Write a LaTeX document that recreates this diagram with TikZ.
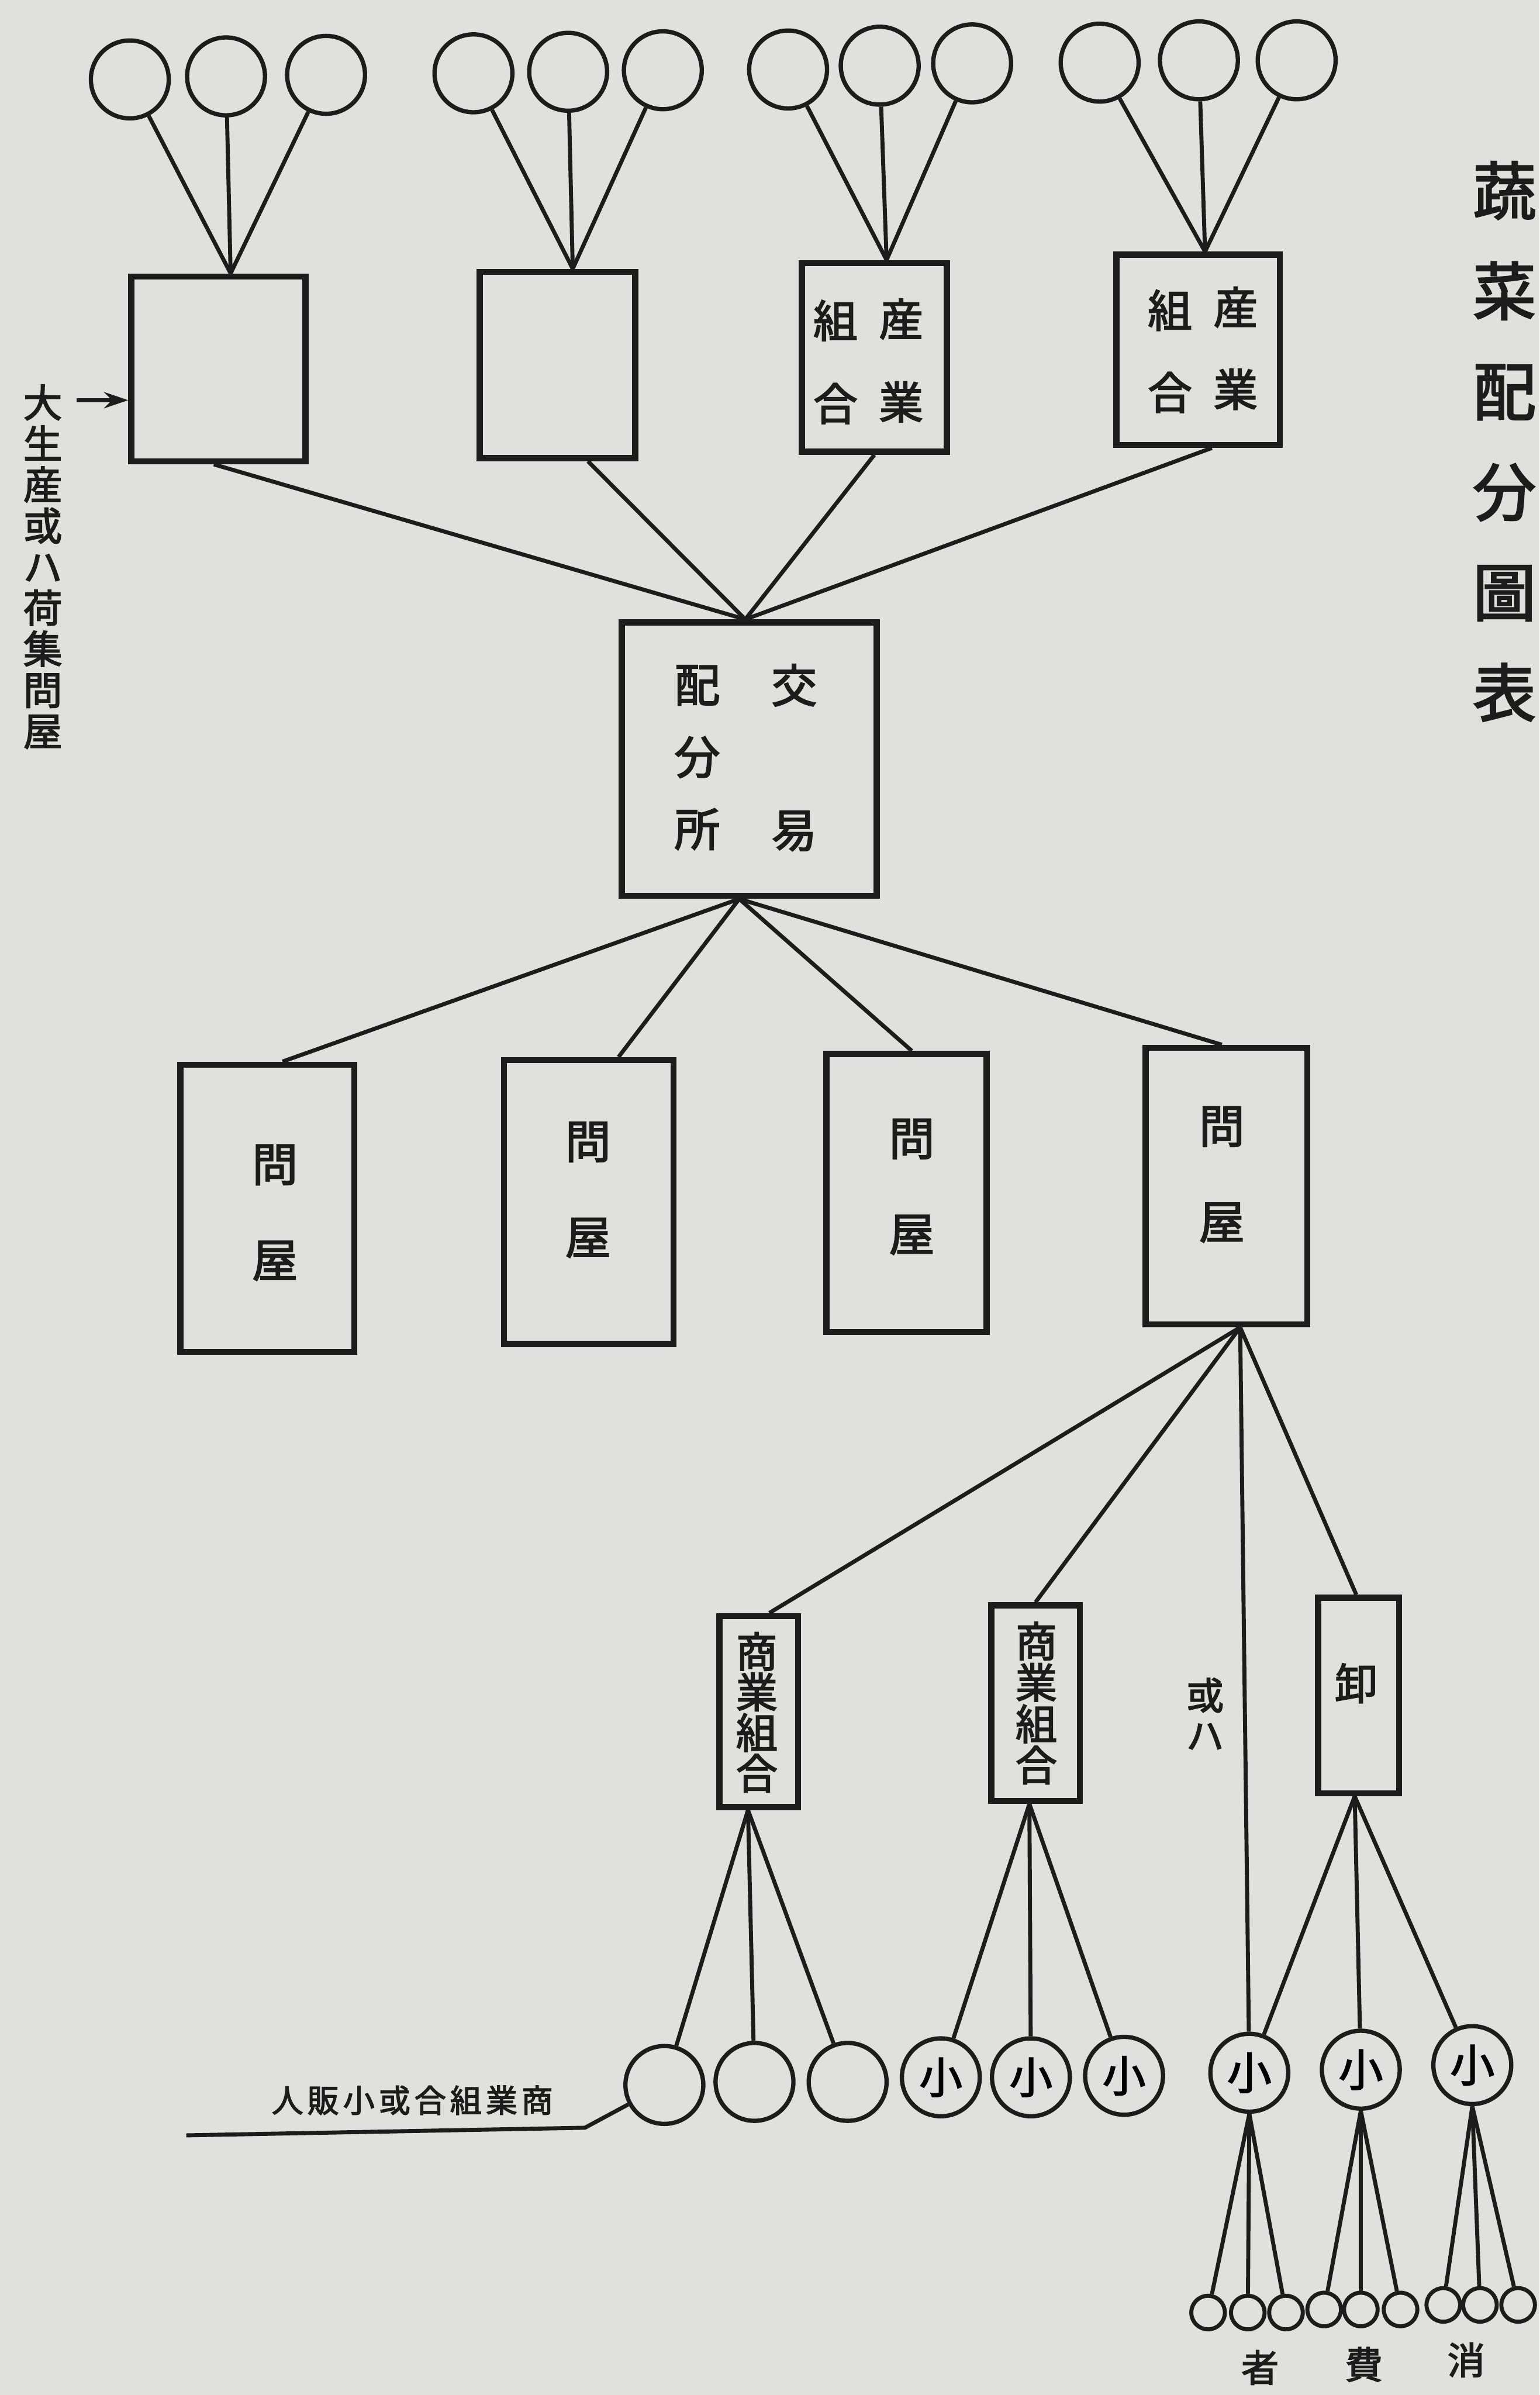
\documentclass[tikz,border=0pt]{standalone}
\usepackage{fontspec}
\usetikzlibrary{calc,arrows.meta}
\newfontfamily\cjk[FakeBold=2.6]{Noto Sans CJK JP}
\definecolor{paper}{RGB}{224,224,222}
\definecolor{ink}{RGB}{28,28,28}
\begin{document}
\begin{tikzpicture}[x=0.02cm,y=-0.02cm,
  conn/.style={draw=ink,line width=1.5pt},
  box/.style={draw=ink,line width=2.3pt,inner sep=0pt},
  ring/.style={draw=ink,circle,line width=1.6pt,inner sep=0pt,minimum size=1.02cm},
  tiny/.style={draw=ink,circle,line width=1.5pt,inner sep=0pt,minimum size=0.44cm},
  txt/.style={inner sep=0pt,align=center,text=ink}]
\fill[paper] (0,0) rectangle (1008,1568);
\useasboundingbox (0,0) rectangle (1008,1568);

% ---------- top circles ----------
\node[ring] (a1) at (85,52) {};
\node[ring] (a2) at (148,50) {};
\node[ring] (a3) at (213.5,49) {};
\node[ring] (a4) at (310,48) {};
\node[ring] (a5) at (372,47) {};
\node[ring] (a6) at (434,46) {};
\node[ring] (a7) at (516,45.5) {};
\node[ring] (a8) at (576,43) {};
\node[ring] (a9) at (636.5,41.5) {};
\node[ring] (a10) at (720,41) {};
\node[ring] (a11) at (785,39.5) {};
\node[ring] (a12) at (849,39.5) {};

% ---------- top boxes ----------
\node[box,minimum width=2.28cm,minimum height=2.42cm] (t1) at (143,241.5) {};
\node[box,minimum width=2.04cm,minimum height=2.44cm] (t2) at (365,239) {};
\node[box,minimum width=1.90cm,minimum height=2.47cm] (t3) at (572.5,234) {};
\node[box,minimum width=2.14cm,minimum height=2.49cm] (t4) at (784.5,229) {};
\node[txt,font=\cjk\fontsize{16.5pt}{30.9pt}\selectfont] (t3l) at (547,237) {組\\合};
\node[txt,font=\cjk\fontsize{16.5pt}{30.9pt}\selectfont] (t3r) at (590,236) {産\\業};
\node[txt,font=\cjk\fontsize{16.5pt}{30.6pt}\selectfont] (t4l) at (766,230) {組\\合};
\node[txt,font=\cjk\fontsize{16.5pt}{30.6pt}\selectfont] (t4r) at (809,228) {産\\業};

% ---------- exchange box ----------
\node[box,minimum width=3.34cm,minimum height=3.58cm] (ex) at (490.5,497) {};
\node[txt,font=\cjk\fontsize{17pt}{26.9pt}\selectfont] (exl) at (456.5,496) {配\\分\\所};
\node[txt,font=\cjk\fontsize{17pt}{53.9pt}\selectfont] (exr) at (520,496) {交\\易};

% ---------- wholesaler boxes ----------
\node[box,minimum width=2.28cm,minimum height=3.76cm] (w1) at (175,791) {};
\node[box,minimum width=2.22cm,minimum height=3.72cm] (w2) at (385.5,787) {};
\node[box,minimum width=2.10cm,minimum height=3.64cm] (w3) at (593.5,781) {};
\node[box,minimum width=2.12cm,minimum height=3.62cm] (w4) at (803,776.5) {};
\node[txt,font=\cjk\fontsize{17pt}{35.7pt}\selectfont] (w1t) at (180,794) {問\\屋};
\node[txt,font=\cjk\fontsize{17pt}{35.7pt}\selectfont] (w2t) at (385,779) {問\\屋};
\node[txt,font=\cjk\fontsize{17pt}{35.7pt}\selectfont] (w3t) at (597,777) {問\\屋};
\node[txt,font=\cjk\fontsize{17pt}{35.7pt}\selectfont] (w4t) at (800,769) {問\\屋};

% ---------- lower boxes ----------
\node[box,minimum width=1.03cm,minimum height=2.50cm] (m1) at (496.75,1120.5) {};
\node[box,minimum width=1.16cm,minimum height=2.56cm] (m2) at (678,1115) {};
\node[box,minimum width=1.06cm,minimum height=2.56cm] (o) at (889.5,1110) {};
\node[txt,font=\cjk\fontsize{15.5pt}{15.1pt}\selectfont] (m1t) at (495.5,1121) {商\\業\\組\\合};
\node[txt,font=\cjk\fontsize{15.5pt}{15.4pt}\selectfont] (m2t) at (678.5,1115) {商\\業\\組\\合};
\node[txt,font=\cjk\fontsize{16pt}{18pt}\selectfont] (ot) at (888,1102) {卸};
\node[txt,font=\cjk\fontsize{14pt}{15pt}\selectfont] (ora) at (789,1122) {或\\ハ};

% ---------- retail circles ----------
\node[ring] (c1) at (435,1365) {};
\node[ring] (c2) at (494,1363) {};
\node[ring] (c3) at (555,1363) {};
\node[ring,font=\cjk\fontsize{16pt}{16pt}\selectfont] (c4) at (616,1360) {小};
\node[ring,font=\cjk\fontsize{16pt}{16pt}\selectfont] (c5) at (675,1360) {小};
\node[ring,font=\cjk\fontsize{16pt}{16pt}\selectfont] (c6) at (736,1359) {小};
\node[ring,font=\cjk\fontsize{16.5pt}{16pt}\selectfont] (s1) at (818,1357) {小};
\node[ring,font=\cjk\fontsize{16.5pt}{16pt}\selectfont] (s2) at (891,1355) {小};
\node[ring,font=\cjk\fontsize{16.5pt}{16pt}\selectfont] (s3) at (964,1352) {小};

% ---------- consumer circles ----------
\node[tiny] (d1) at (791,1514) {};
\node[tiny] (d2) at (817,1514) {};
\node[tiny] (d3) at (842,1514) {};
\node[tiny] (d4) at (867,1512) {};
\node[tiny] (d5) at (891,1512) {};
\node[tiny] (d6) at (917,1512) {};
\node[tiny] (d7) at (945,1509) {};
\node[tiny] (d8) at (969,1509) {};
\node[tiny] (d9) at (994,1509) {};
\node[txt,font=\cjk\fontsize{14pt}{15pt}\selectfont] (k1) at (825,1550) {者};
\node[txt,font=\cjk\fontsize{14pt}{15pt}\selectfont] (k2) at (893,1548) {費};
\node[txt,font=\cjk\fontsize{14pt}{15pt}\selectfont] (k3) at (960,1545) {消};

% ---------- labels ----------
\node[txt,font=\cjk\fontsize{23.5pt}{37.4pt}\selectfont] (title) at (985,289) {蔬\\菜\\配\\分\\圖\\表};
\node[txt,font=\cjk\fontsize{14.5pt}{15.3pt}\selectfont] (left) at (28,371) {大\\生\\産\\或\\ハ\\荷\\集\\問\\屋};
\node[txt,font=\cjk\fontsize{11.8pt}{13pt}\selectfont] (bl) at (270,1375) {人\hspace{1.5pt}販\hspace{1.5pt}小\hspace{1.5pt}或\hspace{1.5pt}合\hspace{1.5pt}組\hspace{1.5pt}業\hspace{1.5pt}商};
\coordinate (arrs) at (50,262);
\coordinate (bls) at (122,1398);
\coordinate (blk) at (383,1393);

% ---------- connectors ----------
\foreach \c in {a1,a2,a3} \draw[conn] (\c) -- ($(t1.north)+(8,0)$);
\foreach \c in {a4,a5,a6} \draw[conn] (\c) -- ($(t2.north)+(10,0)$);
\foreach \c in {a7,a8,a9} \draw[conn] (\c) -- ($(t3.north)+(8,0)$);
\foreach \c in {a10,a11,a12} \draw[conn] (\c) -- ($(t4.north)+(4.5,0)$);

\draw[conn] ($(t1.south)+(-3,0)$) -- ($(ex.north)+(-2.5,0)$);
\draw[conn] ($(t2.south)+(20,0)$) -- ($(ex.north)+(-2.5,0)$);
\draw[conn] (t3.south) -- ($(ex.north)+(-2.5,0)$);
\draw[conn] ($(t4.south)+(9,0)$) -- ($(ex.north)+(-2.5,0)$);

\draw[conn] ($(ex.south)+(-6.5,0)$) -- ($(w1.north)+(10,0)$);
\draw[conn] ($(ex.south)+(-6.5,0)$) -- ($(w2.north)+(19.5,0)$);
\draw[conn] ($(ex.south)+(-6.5,0)$) -- ($(w3.north)+(3.5,0)$);
\draw[conn] ($(ex.south)+(-6.5,0)$) -- ($(w4.north)+(-3,0)$);

\draw[conn] ($(w4.south)+(9,0)$) -- ($(m1.north)+(7,0)$);
\draw[conn] ($(w4.south)+(9,0)$) -- (m2.north);
\draw[conn] ($(w4.south)+(9,0)$) -- (s1);
\draw[conn] ($(w4.south)+(9,0)$) -- ($(o.north)+(-1.5,0)$);

\foreach \c in {c1,c2,c3} \draw[conn] ($(m1.south)+(-7,0)$) -- (\c);
\foreach \c in {c4,c5,c6} \draw[conn] ($(m2.south)+(-4,0)$) -- (\c);
\foreach \c in {s1,s2,s3} \draw[conn] ($(o.south)+(-2.5,0)$) -- (\c);
\foreach \c in {d1,d2,d3} \draw[conn] (s1.south) -- (\c);
\foreach \c in {d4,d5,d6} \draw[conn] (s2.south) -- (\c);
\foreach \c in {d7,d8,d9} \draw[conn] (s3.south) -- (\c);

\draw[conn,-{Stealth[length=9pt,width=6pt]}] (arrs) -- (arrs -| t1.west);
\draw[conn] (bls) -- (blk) -- (c1);
\end{tikzpicture}
\end{document}
